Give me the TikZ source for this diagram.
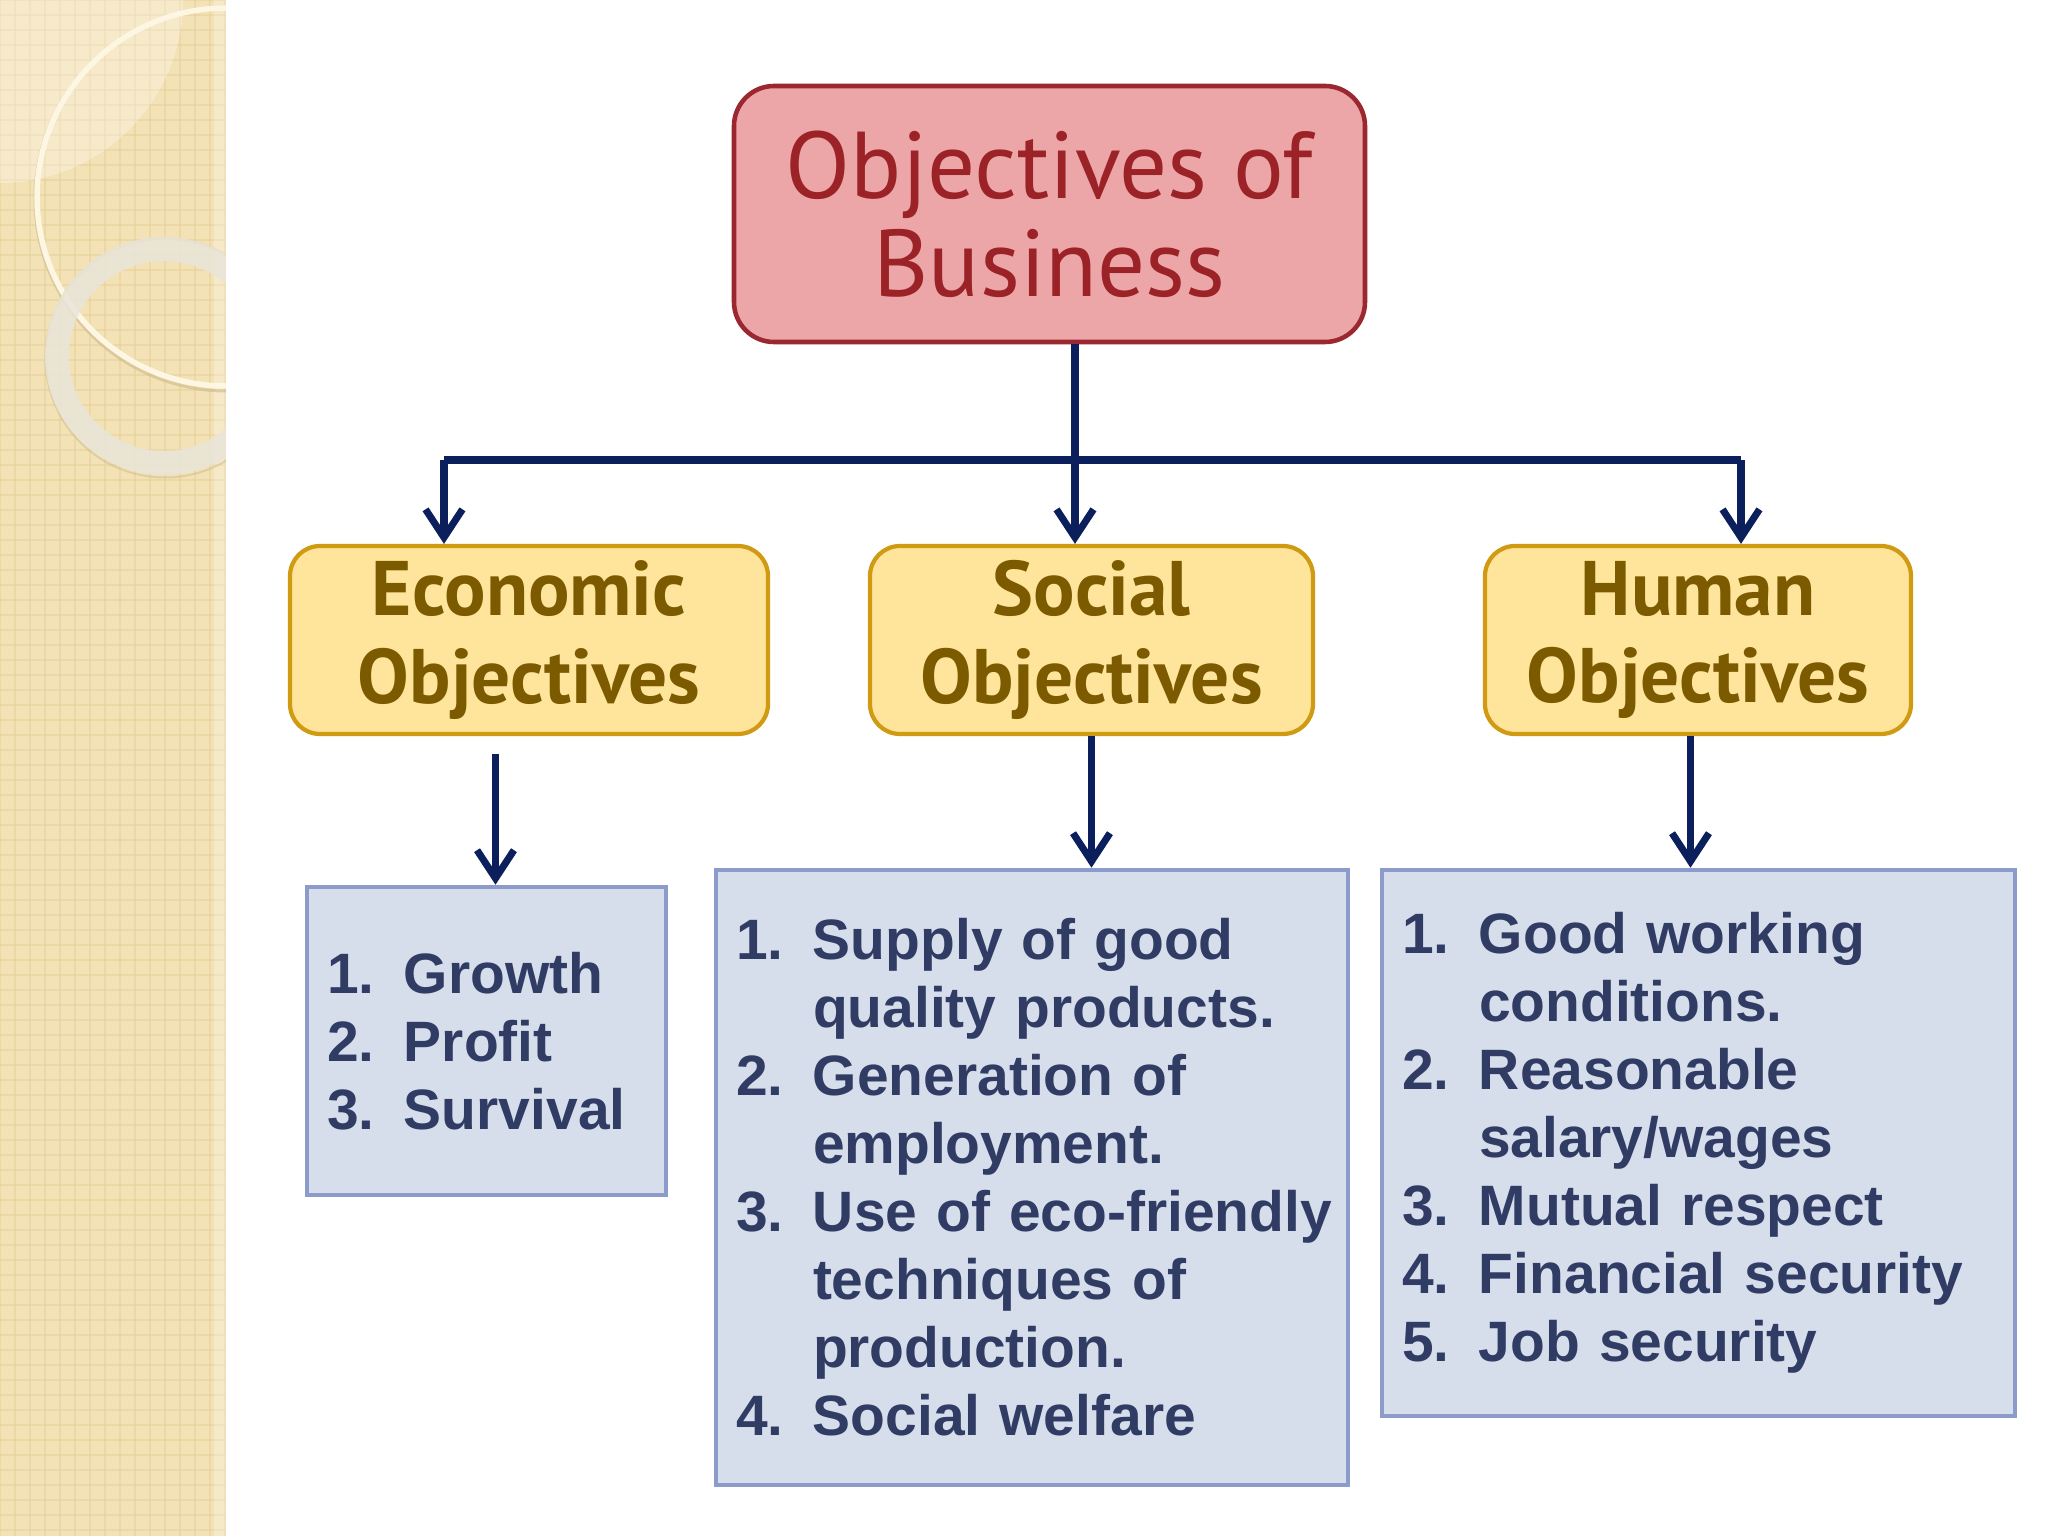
\documentclass[tikz,border=0pt]{standalone}
\usepackage{fontspec}
\setmainfont{Liberation Sans}
\newfontfamily\headfont{PT Sans}
\usetikzlibrary{arrows.meta}
\definecolor{titlefill}{HTML}{ECA6A8}
\definecolor{titleline}{HTML}{9B2830}
\definecolor{titletext}{HTML}{9B2226}
\definecolor{goalfill}{HTML}{FFE59C}
\definecolor{goalline}{HTML}{D09A12}
\definecolor{goaltext}{HTML}{7B5A00}
\definecolor{listfill}{HTML}{D6DEEC}
\definecolor{listline}{HTML}{8C9BC9}
\definecolor{listtext}{HTML}{313C64}
\definecolor{linkcol}{HTML}{0A1F5C}
\definecolor{stripcol}{HTML}{F3E2B5}
\definecolor{stripgrid}{HTML}{E6CF98}
\definecolor{ringcol}{HTML}{E9E5DA}
\definecolor{thinring}{HTML}{FDF6E2}
\definecolor{ringshade}{HTML}{CDBB8C}
\tikzset{>/.tip={Straight Barb[length=8pt,width=10.5pt]},
  titlebox/.style={draw=titleline, fill=titlefill, line width=1.3pt, rounded corners=0.4cm,
    text=titletext, align=center, font=\headfont\fontsize{27}{28}\selectfont},
  goalbox/.style={draw=goalline, fill=goalfill, line width=1.2pt, rounded corners=0.3cm,
    text=goaltext, align=center, font=\headfont\bfseries\fontsize{22}{25}\selectfont},
  listbox/.style={draw=listline, fill=listfill, line width=1.3pt, text=listtext,
    align=left, inner xsep=0.2cm, font=\bfseries\fontsize{16.2}{19.35}\selectfont},
  link/.style={draw=linkcol, line width=2pt}}
\newcommand{\nm}[1]{\makebox[0.77cm][l]{#1}}

\begin{document}
\begin{tikzpicture}
\useasboundingbox (0,0) rectangle (20.48,-15.36);
\fill[white] (0,0) rectangle (20.48,-15.36);
% left strip
\begin{scope}
\clip (0,0) rectangle (2.26,-15.36);
\fill[stripcol] (0,0) rectangle (2.26,-15.36);
\foreach \k in {0,...,16} \draw[stripgrid, line width=0.5pt, opacity=0.5] (\k*0.15,0) -- (\k*0.15,-15.36);
\foreach \k in {0,...,103} \draw[stripgrid, line width=0.5pt, opacity=0.5] (0,-\k*0.15) -- (2.26,-\k*0.15);
\fill[white, opacity=0.3] (0,0) -- (1.83,0) arc (0:-90:1.83) -- cycle;
\fill[white, opacity=0.25] (2.14,0) rectangle (2.26,-15.36);
\draw[ringshade, line width=0.03cm, opacity=0.6] (2.27,-1.99) circle (1.92);
\draw[thinring, line width=0.055cm] (2.26,-1.97) circle (1.89);
\draw[ringshade, line width=0.02cm, opacity=0.5] (1.65,-3.58) circle (1.195);
\draw[ringcol, line width=0.24cm, opacity=0.85] (1.64,-3.56) circle (1.07);
\end{scope}

\node[titlebox, minimum width=6.31cm, minimum height=2.56cm] (top) at (10.495,-2.14) {Objectives of\\Business};

\node[goalbox, minimum width=4.78cm, minimum height=1.88cm] (econ) at (5.29,-6.40) {Economic\\Objectives};
\node[goalbox, minimum width=4.43cm, minimum height=1.88cm] (social) at (10.915,-6.40) {Social\\Objectives};
\node[goalbox, minimum width=4.26cm, minimum height=1.88cm] (human) at (16.98,-6.40) {Human\\Objectives};

\node[listbox, text width=3.19cm, minimum height=3.08cm] (ecobox) at (4.865,-10.41)
  {\nm{1.}Growth\\\nm{2.}Profit\\\nm{3.}Survival};
\node[listbox, text width=5.92cm, minimum height=6.15cm] (socbox) at (10.32,-11.775)
  {\nm{1.}Supply of good\\\nm{}quality products.\\\nm{2.}Generation of\\\nm{}employment.\\
   \nm{3.}\mbox{Use of eco-friendly}\\\nm{}techniques of\\\nm{}production.\\\nm{4.}Social welfare};
\node[listbox, text width=5.93cm, minimum height=5.46cm] (hubox) at (16.985,-11.43)
  {\nm{1.}Good working\\\nm{}conditions.\\\nm{2.}Reasonable\\\nm{}salary/wages\\
   \nm{3.}Mutual respect\\\nm{4.}Financial security\\\nm{5.}Job security};

\coordinate (hub) at (10.75,-4.60);
\coordinate (lft) at (4.44,-4.60);
\coordinate (rgt) at (17.41,-4.60);
\coordinate (ecotip) at ([xshift=0.09cm]ecobox.north);
\coordinate (hutip) at ([xshift=-0.08cm]hubox.north);
\draw[link] (top.south -| hub) -- (hub);
\draw[link] (lft) -- (rgt);
\draw[link, ->] (lft) -- (lft |- econ.north);
\draw[link, ->] (hub) -- (hub |- social.north);
\draw[link, ->] (rgt) -- (rgt |- human.north);
\draw[link, ->, shorten <=0.18cm] (econ.south -| ecotip) -- (ecotip);
\draw[link, ->] (social.south) -- (social.south |- socbox.north);
\draw[link, ->] (human.south -| hutip) -- (hutip);
\end{tikzpicture}
\end{document}
